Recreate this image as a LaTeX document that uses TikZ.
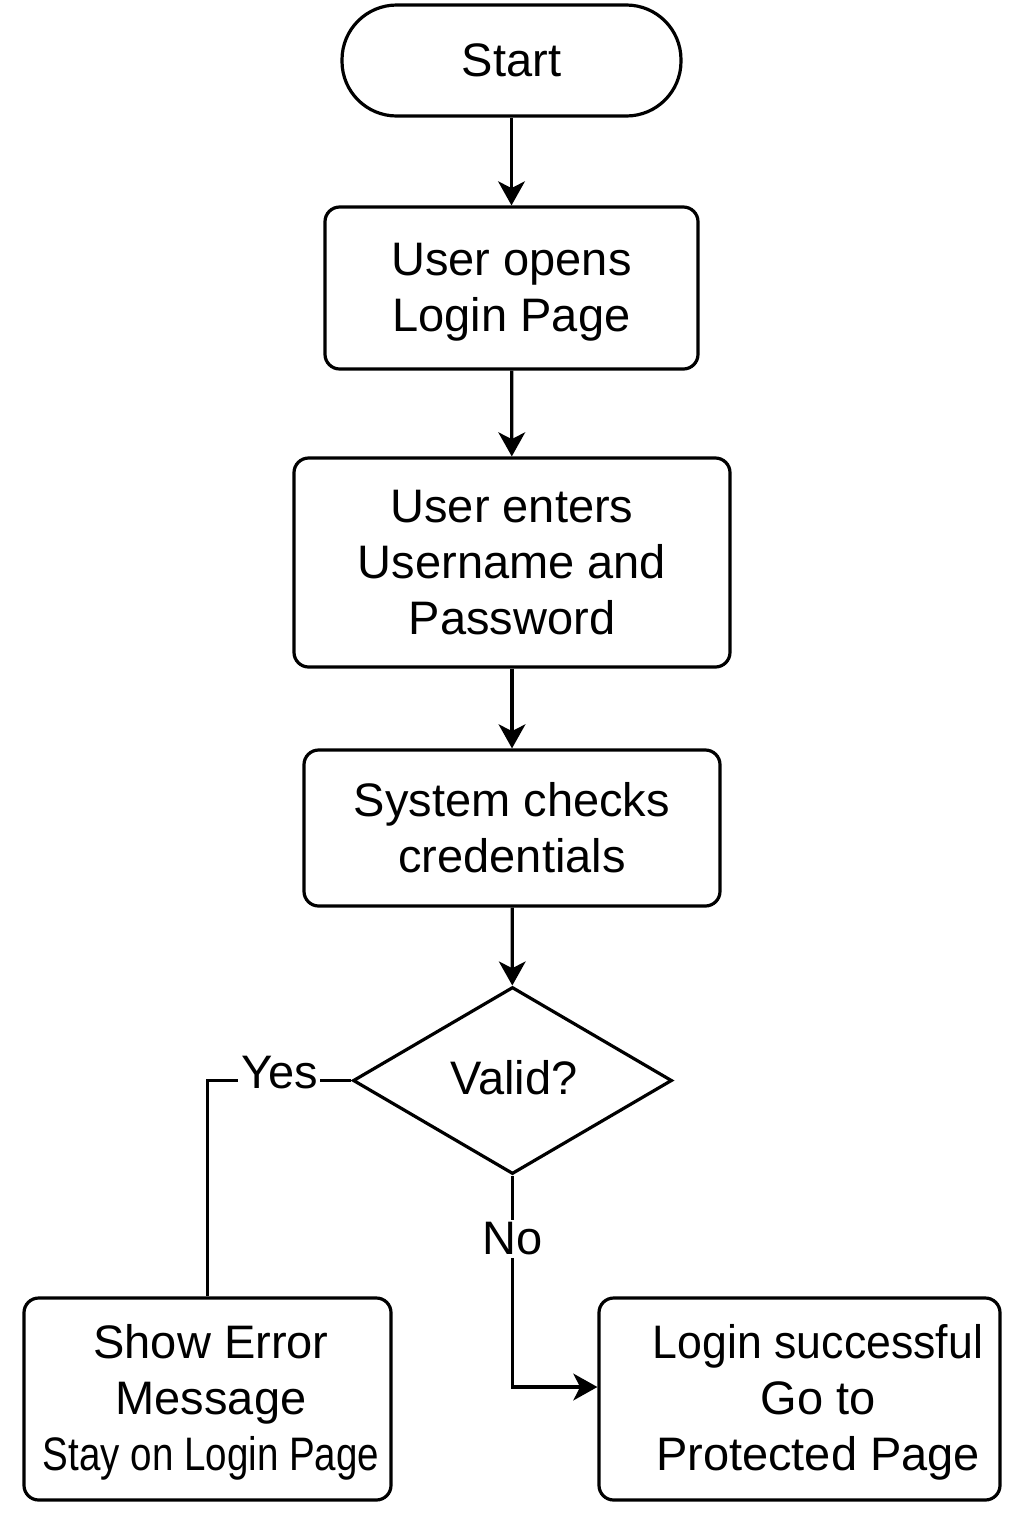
\documentclass[tikz,border=0pt]{standalone}
\usepackage{fontspec}
\setmainfont{Liberation Sans}
\newfontfamily\condA[FakeStretch=0.82]{Liberation Sans}
\newfontfamily\condB[FakeStretch=0.95]{Liberation Sans}
\usetikzlibrary{shapes.geometric,arrows.meta}
\begin{document}
\begin{tikzpicture}[x=0.75pt,y=-0.75pt,
  every node/.style={font=\fontsize{35.25pt}{42pt}\selectfont},
  stadium/.style={draw,line width=2.4pt,rounded corners=41pt,inner sep=0pt,align=center},
  procbox/.style={draw,line width=2.4pt,rounded corners=11pt,inner sep=0pt,align=center},
  decision/.style={draw,line width=2.4pt,diamond,inner sep=0pt,aspect=1.7,align=center},
  conn/.style={line width=2.4pt,-{Stealth[length=18pt,width=20pt,inset=5pt]}},
  plainconn/.style={line width=2.4pt},
  edgelabel/.style={fill=white,inner sep=2pt}]
\useasboundingbox (0,0) rectangle (1024,1536);
\node[stadium,minimum width=254.25pt,minimum height=83.25pt] (start) at (511.5,60.5) {Start};
\node[procbox,minimum width=279.75pt,minimum height=121.5pt] (open) at (511.5,288) {};
\node[align=center,inner sep=0pt] (opentext) at (511.5,292) {User opens\\Login Page};
\node[procbox,minimum width=327pt,minimum height=156.75pt] (enter) at (512,562.5) {User enters\\Username and\\Password};
\node[procbox,minimum width=312pt,minimum height=117pt] (check) at (512,828) {System checks\\credentials};
\node[decision,minimum width=239.25pt,minimum height=140.25pt] (valid) at (512.5,1080.5) {};
\node[inner sep=0pt] (validtext) at (514,1078) {Valid?};
\node[procbox,minimum width=275.25pt,minimum height=151.5pt] (err) at (207.5,1399) {};
\node[align=center,inner sep=0pt] (errtext) at (211,1402) {Show Error\\Message\\{\condA Stay on Login Page}};
\node[procbox,minimum width=300.75pt,minimum height=151.5pt] (succ) at (799.5,1399) {};
\node[align=center,inner sep=0pt] (succtext) at (818,1402) {{\condB Login successful}\\Go to\\Protected Page};
\draw[conn] (start) -- (open);
\draw[conn] (open) -- (enter);
\draw[conn] (enter) -- (check);
\draw[conn] (check) -- (valid);
\draw[plainconn] (valid.west) -| node[edgelabel,pos=0.25,yshift=6pt] {Yes} (err.north);
\draw[conn] (valid.south) |- node[edgelabel,pos=0.15] {No} ([yshift=9pt]succ.west);
\end{tikzpicture}
\end{document}
